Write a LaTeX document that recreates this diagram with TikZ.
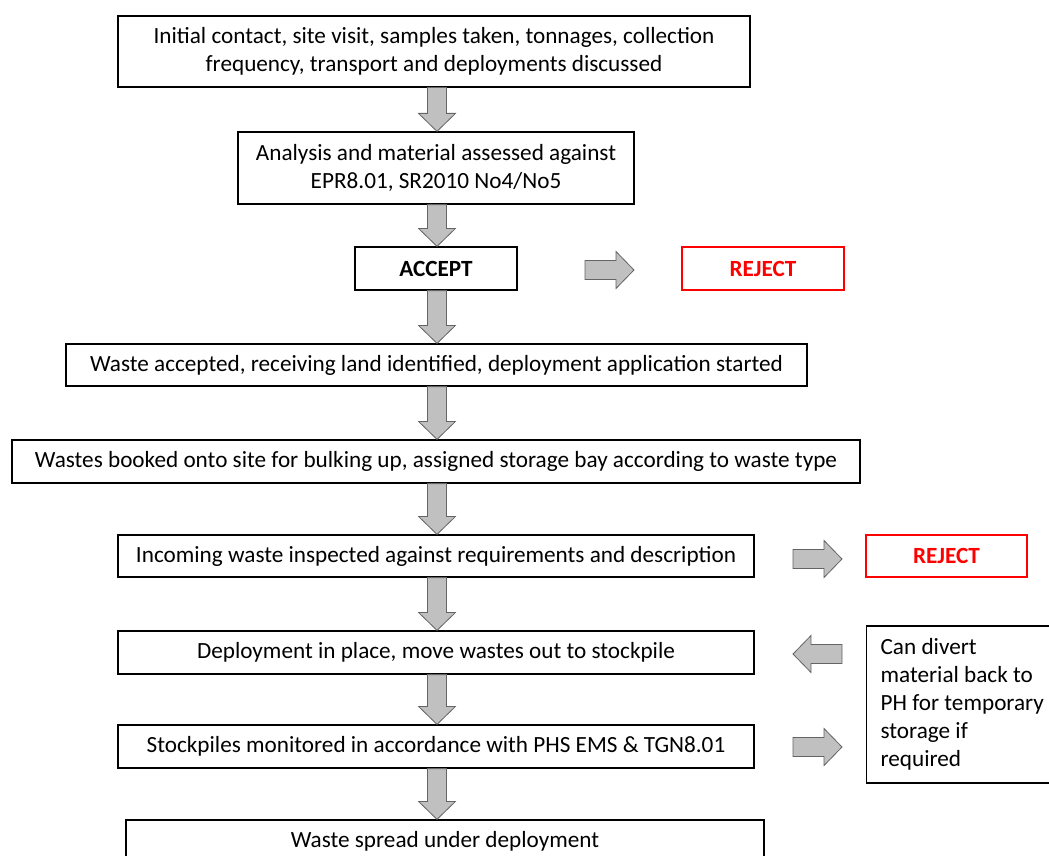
\documentclass[tikz,border=0pt]{standalone}
\usepackage{fontspec}
\setmainfont{Carlito}
\usetikzlibrary{shapes,arrows,fit,positioning,calc}
\definecolor{arrowgray}{RGB}{192,192,192}
\definecolor{arrowedge}{RGB}{100,100,100}
\definecolor{rejred}{RGB}{255,0,0}

\begin{document}
\begin{tikzpicture}[x=1pt,y=-1pt,% pixel-like units, y grows downwards
			every node/.style={
				align=center,  		% so that "\\" breaks a line
				inner sep=0pt,
				font=\fontsize{23.2}{28}\selectfont
			},
			box/.style={rectangle,draw=black,line width=1.2pt,fill=white},
			rejbox/.style={rectangle,draw=rejred,line width=1.2pt,fill=white,text=rejred,font=\fontsize{23.2}{28}\selectfont\bfseries},
			% fat grey arrow drawn between two points
			blockarrow/.style={draw=arrowedge,fill=arrowgray,line width=0.8pt,line join=miter,
				to path={let \p1=($(\tikztotarget)!18pt!(\tikztostart)$) in
					($(\tikztostart)!9.5pt!90:(\tikztotarget)$) -- ($(\p1)!9.5pt!90:(\tikztotarget)$)
					-- ($(\p1)!18.5pt!90:(\tikztotarget)$) -- (\tikztotarget)
					-- ($(\p1)!18.5pt!-90:(\tikztotarget)$) -- ($(\p1)!9.5pt!-90:(\tikztotarget)$)
					-- ($(\tikztostart)!9.5pt!-90:(\tikztotarget)$) -- cycle}}
		]
		\useasboundingbox (0,0) rectangle (1049,856);
		\coordinate (mid) at (437,0);
		% main column
		\node[box,minimum width=632pt,minimum height=71pt](B1) at (434,51.5){Initial contact, site visit, samples taken, tonnages, collection\\frequency, transport and deployments discussed};
		\node[box,minimum width=396pt,minimum height=72pt](B2) at (436,168){Analysis and material assessed against\\EPR8.01, SR2010 No4/No5};
		\node[box,minimum width=162pt,minimum height=43pt,font=\fontsize{23.2}{28}\selectfont\bfseries](B3) at (436,268.5){ACCEPT};
		\node[box,minimum width=741pt,minimum height=42pt](B4) at (436.5,365){Waste accepted, receiving land identified, deployment application started};
		\node[box,minimum width=848pt,minimum height=43pt](B5) at (436,461.5){Wastes booked onto site for bulking up, assigned storage bay according to waste type};
		\node[box,minimum width=636pt,minimum height=42pt](B6) at (436,556){Incoming waste inspected against requirements and description};
		\node[box,minimum width=636pt,minimum height=43pt](B7) at (436,652.5){Deployment in place, move wastes out to stockpile};
		\node[box,minimum width=636pt,minimum height=43pt](B8) at (436,746.5){Stockpiles monitored in accordance with PHS EMS \& TGN8.01};
		\node[box,minimum width=638pt,minimum height=43pt](B9) at (445,841.5){Waste spread under deployment};
		% side boxes
		\node[rejbox,minimum width=162pt,minimum height=43pt](R1) at (763,268.5){REJECT};
		\node[rejbox,minimum width=161pt,minimum height=42pt](R2) at (946.5,556){REJECT};
		\node[box,anchor=west,inner xsep=14pt,minimum height=157pt,text width=180pt,align=flush left](D) at (866,704.5){Can divert\\material back to\\PH for temporary\\storage if\\required};
		% free ends of the side arrows
		\coordinate (H1s) at (585,270);  \coordinate (H1e) at (634,270);
		\coordinate (H2s) at (793,559);  \coordinate (H2e) at (842,559);
		\coordinate (H3s) at (842,654);  \coordinate (H3e) at (793,654);
		\coordinate (H4s) at (793,747);  \coordinate (H4e) at (842,747);
		\draw[blockarrow] (B1.south -| mid) to (B2.north -| mid);
		\draw[blockarrow] (B2.south -| mid) to (B3.north -| mid);
		\draw[blockarrow] (B3.south -| mid) to (B4.north -| mid);
		\draw[blockarrow] (B4.south -| mid) to (B5.north -| mid);
		\draw[blockarrow] (B5.south -| mid) to (B6.north -| mid);
		\draw[blockarrow] (B6.south -| mid) to (B7.north -| mid);
		\draw[blockarrow] (B7.south -| mid) to (B8.north -| mid);
		\draw[blockarrow] (B8.south -| mid) to (B9.north -| mid);
		\draw[blockarrow] (H1s) to (H1e);
		\draw[blockarrow] (H2s) to (H2e);
		\draw[blockarrow] (H3s) to (H3e);
		\draw[blockarrow] (H4s) to (H4e);
	\end{tikzpicture}
\end{document}
